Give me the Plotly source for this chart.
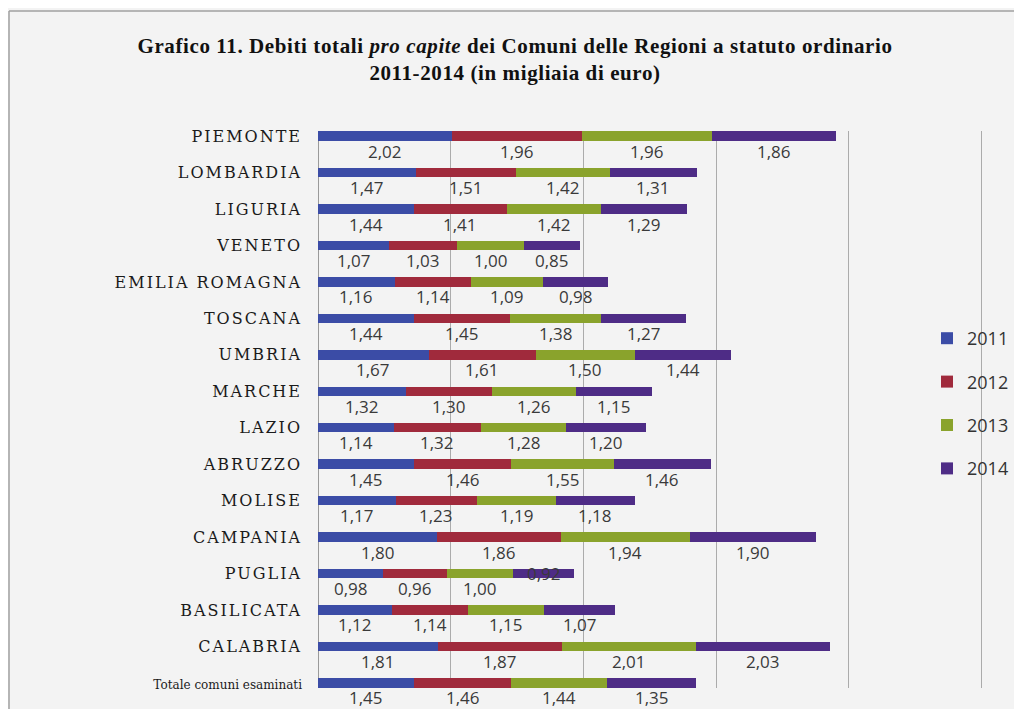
import plotly.graph_objects as go

# --- data (migliaia di euro pro capite) --------------------------------------
REGIONS = ["PIEMONTE", "LOMBARDIA", "LIGURIA", "VENETO", "EMILIA ROMAGNA",
           "TOSCANA", "UMBRIA", "MARCHE", "LAZIO", "ABRUZZO", "MOLISE",
           "CAMPANIA", "PUGLIA", "BASILICATA", "CALABRIA",
           "Totale comuni esaminati"]
YEARS = ["2011", "2012", "2013", "2014"]
V2011 = [2.02, 1.47, 1.44, 1.07, 1.16, 1.44, 1.67, 1.32, 1.14, 1.45, 1.17, 1.80, 0.98, 1.12, 1.81, 1.45]
V2012 = [1.96, 1.51, 1.41, 1.03, 1.14, 1.45, 1.61, 1.30, 1.32, 1.46, 1.23, 1.86, 0.96, 1.14, 1.87, 1.46]
V2013 = [1.96, 1.42, 1.42, 1.00, 1.09, 1.38, 1.50, 1.26, 1.28, 1.55, 1.19, 1.94, 1.00, 1.15, 2.01, 1.44]
V2014 = [1.86, 1.31, 1.29, 0.85, 0.98, 1.27, 1.44, 1.15, 1.20, 1.46, 1.18, 1.90, 0.92, 1.07, 2.03, 1.35]
SERIES = [V2011, V2012, V2013, V2014]
COLORS = ["#3B4CA6", "#A02A3C", "#8AA32C", "#4E2C86"]
X_TICKS = [0, 2, 4, 6, 8, 10]

SERIF = "DejaVu Serif"
SANS = "Open Sans"
BG = "#F3F3F3"

# page has an 8px body margin -> figure is 8px smaller, coords in figure px
W, H = 1014, 701
px0, px1 = 310, 975
py0, py1 = 123, 680

pos = list(range(len(REGIONS)))
ticktext = [f'<span style="font-size:12px">{r}</span>' if r.startswith("Tot")
            else f'<span style="letter-spacing:2px">{r}</span>' for r in REGIONS]

fig = go.Figure()
base = [0.0] * len(REGIONS)
labels = []
for yr, vals, col in zip(YEARS, SERIES, COLORS):
    fig.add_trace(go.Bar(name=yr, y=pos, x=vals, orientation="h", width=0.26,
                         marker=dict(color=col, line=dict(width=0)),
                         legendgroup=yr, hoverinfo="x+name"))
    # data labels sit under each segment; PUGLIA 2014 is printed on the bar
    for p, b, v in zip(pos, base, vals):
        on_bar = REGIONS[p] == "PUGLIA" and yr == "2014"
        labels.append(dict(x=b + v / 2, y=p, yshift=0 if on_bar else -15,
                           xref="x", yref="y", showarrow=False,
                           text=f"{v:.2f}".replace(".", ","),
                           font=dict(family=SANS, size=17, color="#3A3A3A")))
    base = [b + v for b, v in zip(base, vals)]

def xp(px): return (px - px0) / (px1 - px0)
def yp(py): return (py1 - py) / (py1 - py0)

# frame of the scanned page
frame = dict(color="#A0A0A0", width=1.5)
fig.add_shape(type="line", xref="paper", yref="paper", x0=xp(1), x1=xp(1030),
              y0=yp(3), y1=yp(3), line=frame)
fig.add_shape(type="line", xref="paper", yref="paper", x0=xp(1), x1=xp(1),
              y0=yp(3), y1=yp(720), line=frame)

fig.update_layout(
    width=W, height=H, barmode="stack", bargap=0,
    paper_bgcolor=BG, plot_bgcolor=BG,
    margin=dict(l=px0, r=W - px1, t=py0, b=H - py1, autoexpand=False),
    annotations=labels,
    title=dict(text='<span style="letter-spacing:0.6px"><b>Grafico 11. Debiti totali <i>pro capite</i> '
                    'dei Comuni delle Regioni a statuto ordinario<br>2011-2014 (in migliaia di euro)</b></span>',
               font=dict(family="Liberation Serif", size=21, color="#111"),
               x=0.5, xref="container", xanchor="center",
               y=1 - 45 / H, yref="container", yanchor="top"),
    showlegend=True,
    legend=dict(x=xp(919), y=yp(312), xanchor="left", yanchor="top",
                font=dict(family=SANS, size=18, color="#333"),
                bgcolor="rgba(0,0,0,0)", tracegroupgap=17, traceorder="grouped"),
)
fig.update_xaxes(range=[0, 10.02], tickvals=X_TICKS, showticklabels=False,
                 showgrid=True, gridcolor="#ABABAB", gridwidth=1,
                 zeroline=True, zerolinecolor="#9A9A9A", zerolinewidth=1,
                 showline=False, fixedrange=True)
fig.update_yaxes(range=[15.14, -0.14], tickvals=pos, ticktext=ticktext,
                 tickfont=dict(family=SERIF, size=16, color="#1A1A1A"),
                 ticks="", ticklabelstandoff=15, showgrid=False, zeroline=False,
                 fixedrange=True)

fig.write_html("out.html")
